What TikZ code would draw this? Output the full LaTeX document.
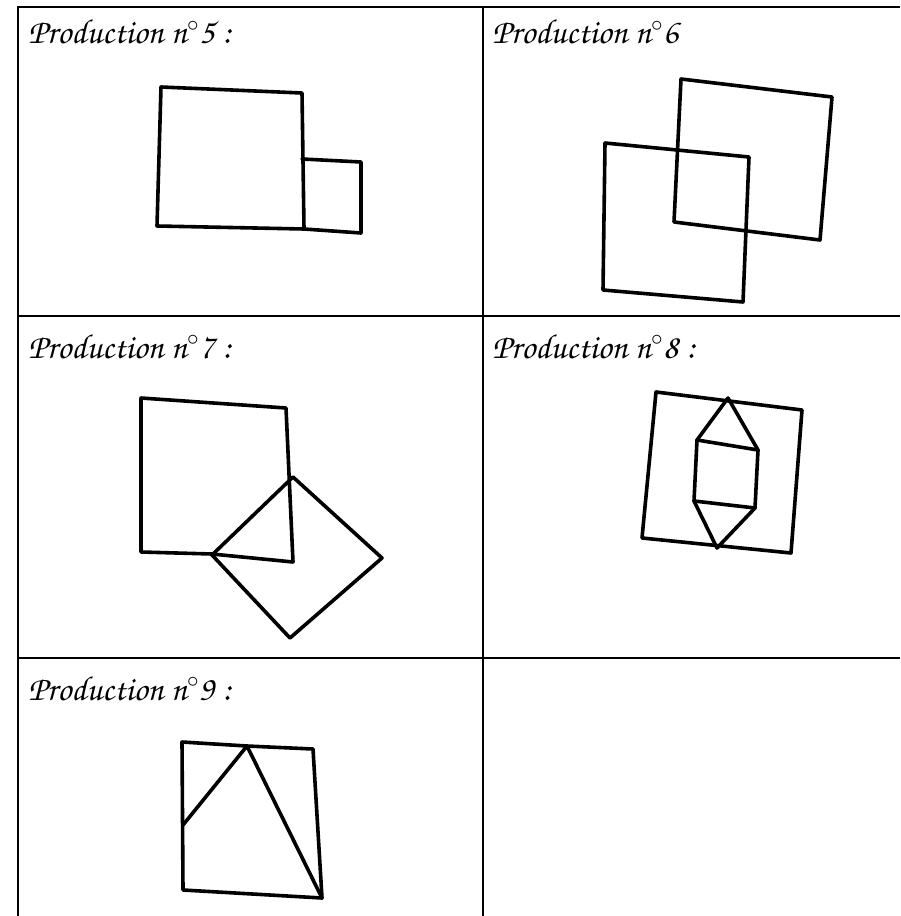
\documentclass[tikz,border=0pt]{standalone}
\usepackage[T1]{fontenc}
\begin{document}
\begin{tikzpicture}[
    x=0.75pt, y=-0.75pt,
    grid/.style = {draw, line width=1.4pt},
    pen/.style = {draw, line width=2.7pt, line join=round, line cap=round},
    title/.style = {anchor=base west, inner sep=0pt,
      font=\fontfamily{pzc}\fontsize{26}{28}\selectfont},
  ]
  \useasboundingbox (0,0) rectangle (900,916);
  % table
  \draw[grid] (18,916) -- (18,7) -- (900,7);
  \draw[grid] (483,7) -- (483,916);
  \draw[grid] (18,316) -- (900,316);
  \draw[grid] (18,658) -- (900,658);
  % titles
  \node[title] (t5) at (28,44) {Production n$^{\circ}$5 :};
  \node[title] (t6) at (492,44) {Production n$^{\circ}$6};
  \node[title] (t7) at (28,358) {Production n$^{\circ}$7 :};
  \node[title] (t8) at (492,358) {Production n$^{\circ}$8 :};
  \node[title] (t9) at (28,700) {Production n$^{\circ}$9 :};
  % production 5
  \draw[pen] (161,87) -- (302,93) -- (304,229) -- (157,226) -- cycle;
  \draw[pen] (302,159) -- (361,162) -- (361,233) -- (304,229);
  % production 6
  \draw[pen] (681,79) -- (832,97) -- (820,240) -- (674,222) -- cycle;
  \draw[pen] (605,143) -- (749,157) -- (743,302) -- (603,290) -- cycle;
  % production 7
  \draw[pen] (141,398) -- (286,408) -- (293,562) -- (212,554) -- (141,552) -- cycle;
  \draw[pen] (293,477) -- (382,558) -- (290,638) -- (212,555) -- cycle;
  % production 8
  \draw[pen] (656,392) -- (802,410) -- (791,553) -- (642,538) -- cycle;
  \draw[pen] (728,398) -- (758,450) -- (755,508) -- (717,548)
    -- (694,501) -- (697,440) -- cycle;
  \draw[pen] (697,440) -- (758,450);
  \draw[pen] (694,501) -- (755,508);
  % production 9
  \draw[pen] (182,742) -- (247,746) -- (313,749) -- (322,898)
    -- (183,890) -- cycle;
  \draw[pen] (183,825) -- (247,746) -- (322,898);
\end{tikzpicture}
\end{document}
